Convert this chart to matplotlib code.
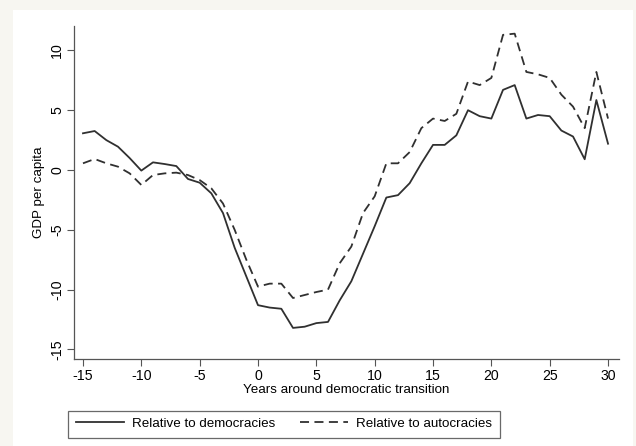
import numpy as np
import matplotlib.pyplot as plt
from matplotlib.patches import Rectangle

plt.rcParams['font.family'] = ['Liberation Sans', 'DejaVu Sans']
plt.rcParams['axes.unicode_minus'] = False

years = list(range(-15, 31))
democracies = [3.07, 3.26, 2.5, 1.95, 1.0, -0.05, 0.64, 0.5, 0.33, -0.75,
               -1.06, -1.95, -3.6, -6.5, -8.9, -11.3, -11.5, -11.6, -13.2, -13.1,
               -12.8, -12.7, -10.9, -9.3, -7.0, -4.7, -2.3, -2.1, -1.1, 0.56,
               2.1, 2.1, 2.9, 5.0, 4.5, 4.3, 6.7, 7.1, 4.3, 4.6,
               4.5, 3.3, 2.8, 0.9, 5.85, 2.2]
autocracies = [0.56, 0.92, 0.56, 0.28, -0.28, -1.25, -0.42, -0.28, -0.22, -0.42,
               -0.84, -1.53, -2.8, -5.0, -7.5, -9.75, -9.5, -9.5, -10.7, -10.45,
               -10.2, -10.0, -7.8, -6.4, -3.6, -2.2, 0.56, 0.56, 1.5, 3.5,
               4.3, 4.1, 4.7, 7.4, 7.1, 7.7, 11.3, 11.4, 8.2, 8.0,
               7.7, 6.3, 5.3, 3.5, 8.2, 4.3]
xticks = [-15, -10, -5, 0, 5, 10, 15, 20, 25, 30]
yticks = [-15, -10, -5, 0, 5, 10]

W, H = 636, 446
fs = 9.6
fig = plt.figure(figsize=(W / 100, H / 100), dpi=100, facecolor='#f7f6f1')
# white plot region
fig.patches.append(Rectangle((13 / W, 0), 620 / W, 1 - 10 / H, transform=fig.transFigure,
                             facecolor='white', edgecolor='none', zorder=-1))

ax = fig.add_axes([74 / W, 1 - 359 / H, (619 - 74) / W, (359 - 26) / H])
ax.set_facecolor('white')
ax.plot(years, democracies, color='#303030', lw=1.3, label='Relative to democracies')
ax.plot(years, autocracies, color='#303030', lw=1.3, ls=(0, (5, 3)), label='Relative to autocracies')

ax.set_xlim(-15.77, 30.94)
ax.set_ylim(-15.8, 12.04)
ax.set_xticks(xticks)
ax.set_yticks(yticks)
ax.set_yticklabels([str(v) for v in yticks], rotation=90, va='center')
ax.tick_params(axis='both', length=5, width=0.8, color='#555555', labelsize=fs + 0.6, pad=2)
for s in ['top', 'right']:
    ax.spines[s].set_visible(False)
for s in ['left', 'bottom']:
    ax.spines[s].set_color('#555555')
    ax.spines[s].set_linewidth(0.9)

ax.set_xlabel('Years around democratic transition', fontsize=fs, labelpad=1)
ax.set_ylabel('GDP per capita', fontsize=fs, labelpad=4)

leg = fig.legend(loc='center', bbox_to_anchor=(284 / W, 1 - 424 / H), ncol=2,
                 fontsize=fs, frameon=True, fancybox=False, handlelength=3.6,
                 columnspacing=1.8, borderpad=0.55, handletextpad=0.65)
leg.get_frame().set_edgecolor('#444444')
leg.get_frame().set_linewidth(0.9)

fig.savefig('out.png', dpi=100, facecolor=fig.get_facecolor())
